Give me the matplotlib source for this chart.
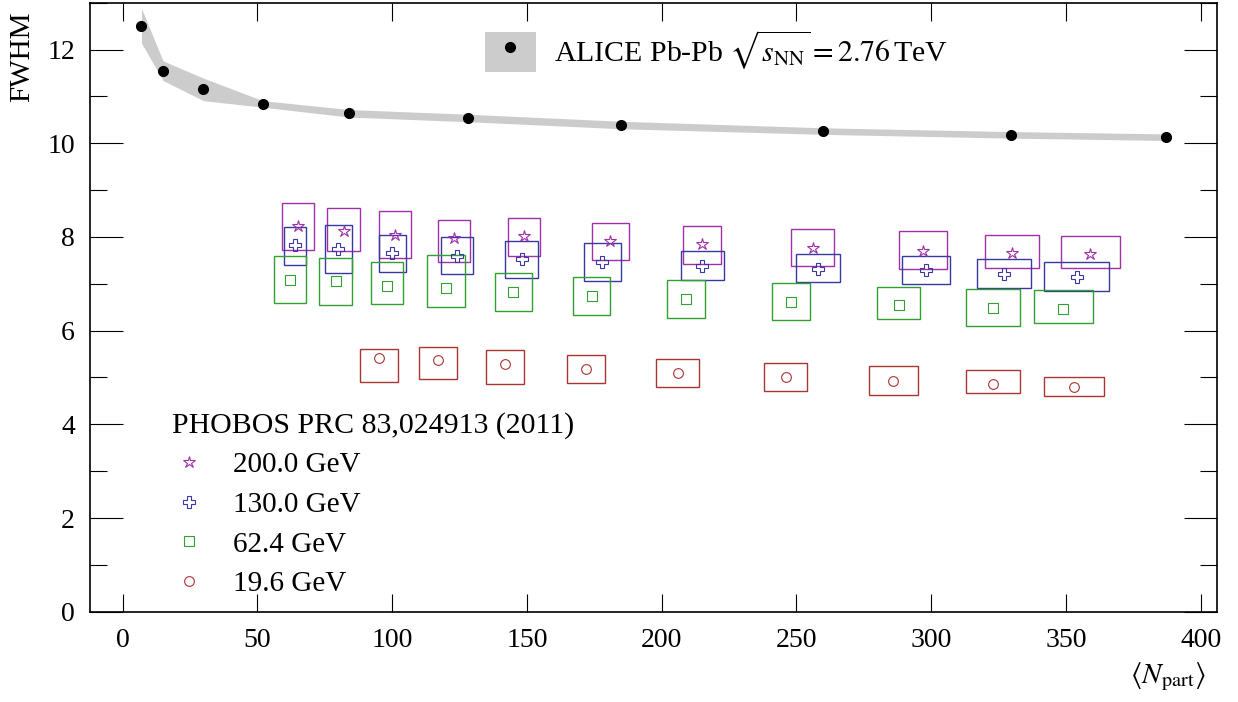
import matplotlib
matplotlib.use('Agg')
import matplotlib.pyplot as plt
from matplotlib.patches import Rectangle
from matplotlib.ticker import MultipleLocator

# ALICE Pb-Pb 2.76 TeV
alice_npart = [7.0, 15.0, 30.0, 52.0, 84.0, 128.0, 185.0, 260.0, 329.5, 387.0]
alice_fwhm = [12.51, 11.55, 11.15, 10.84, 10.64, 10.54, 10.39, 10.26, 10.18, 10.13]
alice_err = [0.37, 0.21, 0.24, 0.07, 0.08, 0.08, 0.08, 0.07, 0.07, 0.07]

# PHOBOS PRC 83,024913 (2011): points + systematic boxes
npart200 = [65, 82, 101, 123, 149, 181, 215, 256, 297, 330, 359]
fwhm200 = [8.23, 8.12, 8.05, 7.98, 8.01, 7.91, 7.84, 7.77, 7.71, 7.65, 7.64]
dx200 = [6, 6, 6, 6, 6, 7, 7, 8, 9, 10, 11]
lo200 = [7.73, 7.71, 7.55, 7.46, 7.59, 7.50, 7.43, 7.38, 7.31, 7.34, 7.33]
hi200 = [8.73, 8.62, 8.55, 8.37, 8.40, 8.30, 8.23, 8.17, 8.12, 8.05, 8.03]

npart130 = [64, 80, 100, 124, 148, 178, 215, 258, 298, 327, 354]
fwhm130 = [7.82, 7.75, 7.66, 7.60, 7.52, 7.46, 7.39, 7.32, 7.29, 7.21, 7.15]
dx130 = [4, 5, 5, 6, 6, 7, 8, 8, 9, 10, 12]
lo130 = [7.41, 7.24, 7.25, 7.20, 7.12, 7.06, 7.09, 7.03, 6.99, 6.91, 6.85]
hi130 = [8.21, 8.25, 8.05, 8.00, 7.92, 7.87, 7.70, 7.63, 7.59, 7.52, 7.46]

npart62 = [62, 79, 98, 120, 145, 174, 209, 248, 288, 323, 349]
fwhm62 = [7.08, 7.05, 6.96, 6.91, 6.83, 6.75, 6.67, 6.62, 6.55, 6.49, 6.47]
dx62 = [6, 6, 6, 7, 7, 7, 7, 7, 8, 10, 11]
lo62 = [6.58, 6.55, 6.56, 6.51, 6.42, 6.33, 6.28, 6.22, 6.24, 6.09, 6.17]
hi62 = [7.59, 7.55, 7.46, 7.62, 7.23, 7.14, 7.08, 7.02, 6.94, 6.89, 6.87]

npart19 = [95, 117, 142, 172, 206, 246, 286, 323, 353]
fwhm19 = [5.41, 5.37, 5.28, 5.19, 5.10, 5.02, 4.93, 4.86, 4.80]
dx19 = [7, 7, 7, 7, 8, 8, 9, 10, 11]
lo19 = [4.90, 4.96, 4.87, 4.89, 4.79, 4.72, 4.63, 4.66, 4.60]
hi19 = [5.60, 5.66, 5.58, 5.49, 5.40, 5.32, 5.24, 5.16, 5.00]

plt.rcParams['font.family'] = ['Liberation Serif', 'DejaVu Serif']
plt.rcParams['mathtext.fontset'] = 'stix'

fig = plt.figure(figsize=(12.38, 7.02), dpi=100)
ax = fig.add_axes([0.0729, 0.1286, 0.9101, 0.8675])

lo_band = [f - e for f, e in zip(alice_fwhm, alice_err)]
hi_band = [f + e for f, e in zip(alice_fwhm, alice_err)]
band = ax.fill_between(alice_npart, lo_band, hi_band, color='#cccccc', lw=0)
pts, = ax.plot(alice_npart, alice_fwhm, 'o', color='black', ms=7, ls='none')

series = [
    (npart200, fwhm200, dx200, lo200, hi200, '#a030a8', '*', 9, '200.0 GeV'),
    (npart130, fwhm130, dx130, lo130, hi130, '#3838a0', 'P', 8, '130.0 GeV'),
    (npart62, fwhm62, dx62, lo62, hi62, '#30a030', 's', 6.5, '62.4 GeV'),
    (npart19, fwhm19, dx19, lo19, hi19, '#a83434', 'o', 7, '19.6 GeV'),
]
phobos_handles = []
for xs, ys, dxs, los, his, col, mk, ms, lab in series:
    for x, dx, lo, hi in zip(xs, dxs, los, his):
        ax.add_patch(Rectangle((x - dx, lo), 2 * dx, hi - lo, fill=False,
                               edgecolor=col, lw=1.0))
    h, = ax.plot(xs, ys, mk, mfc='none', mec=col, mew=0.8, ms=ms, ls='none',
                 label=lab)
    phobos_handles.append(h)

ax.set_xlim(-12, 406)
ax.set_ylim(0, 13)
ax.xaxis.set_major_locator(MultipleLocator(50))
ax.yaxis.set_major_locator(MultipleLocator(2))
ax.yaxis.set_minor_locator(MultipleLocator(1))
ax.tick_params(axis='both', which='both', direction='in', top=True, right=True,
               labelsize=20, width=0.8)
ax.tick_params(axis='y', which='major', length=24, pad=11)
ax.tick_params(axis='y', which='minor', length=12)
ax.tick_params(axis='x', which='major', length=13, pad=12)
for s in ax.spines.values():
    s.set_linewidth(1.2)

ax.set_ylabel('FWHM', fontsize=21, ha='right')
ax.yaxis.set_label_coords(-0.049, 0.985)
ax.set_xlabel(r'$\langle N_{\rm part}\rangle$', fontsize=21, ha='right')
ax.xaxis.set_label_coords(0.99, -0.08)

leg1 = ax.legend([(band, pts)], [r'ALICE Pb-Pb $\sqrt{s_{\rm NN}} = 2.76\,$TeV'],
                 loc='upper left', bbox_to_anchor=(0.350, 0.958), frameon=False,
                 fontsize=21.5, handlelength=1.72, handleheight=1.65,
                 handletextpad=0.62, borderpad=0, borderaxespad=0)
ax.add_artist(leg1)
ax.legend(handles=phobos_handles, title='PHOBOS PRC 83,024913 (2011)',
          title_fontsize=21.5, fontsize=21, loc='upper left',
          bbox_to_anchor=(0.0725, 0.328), frameon=False, alignment='left',
          handlelength=1.15, handletextpad=0.95, labelspacing=0.45,
          borderpad=0, borderaxespad=0)

fig.savefig('out.png', dpi=100)
